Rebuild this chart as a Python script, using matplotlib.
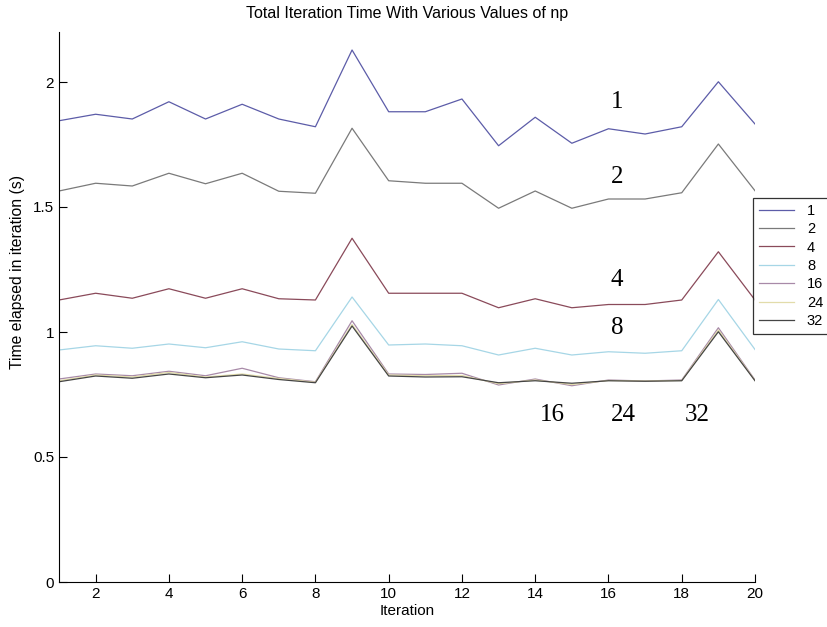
import numpy as np
import matplotlib
matplotlib.use("Agg")
import matplotlib.pyplot as plt

plt.rcParams["font.family"] = ["Liberation Sans", "DejaVu Sans"]

iterations = list(range(1, 21))

np_labels = ["1", "2", "4", "8", "16", "24", "32"]

t_np1 = [1.845, 1.871, 1.852, 1.921, 1.852, 1.911, 1.852, 1.821, 2.128, 1.881,
         1.881, 1.932, 1.745, 1.859, 1.755, 1.813, 1.792, 1.821, 2.001, 1.832]
t_np2 = [1.564, 1.595, 1.584, 1.635, 1.593, 1.635, 1.563, 1.555, 1.815, 1.605,
         1.595, 1.595, 1.495, 1.564, 1.495, 1.532, 1.532, 1.557, 1.752, 1.565]
t_np4 = [1.128, 1.155, 1.135, 1.173, 1.135, 1.173, 1.133, 1.128, 1.375, 1.155,
         1.155, 1.155, 1.097, 1.133, 1.097, 1.110, 1.110, 1.128, 1.321, 1.128]
t_np8 = [0.928, 0.945, 0.935, 0.952, 0.937, 0.961, 0.932, 0.925, 1.140, 0.948,
         0.952, 0.945, 0.908, 0.935, 0.908, 0.921, 0.915, 0.925, 1.130, 0.930]
t_np16 = [0.812, 0.832, 0.825, 0.843, 0.825, 0.855, 0.817, 0.801, 1.045, 0.832,
          0.830, 0.835, 0.788, 0.812, 0.785, 0.808, 0.804, 0.808, 1.017, 0.808]
t_np24 = [0.805, 0.828, 0.820, 0.838, 0.820, 0.832, 0.814, 0.799, 1.030, 0.828,
          0.825, 0.826, 0.793, 0.808, 0.790, 0.806, 0.804, 0.806, 1.008, 0.806]
t_np32 = [0.801, 0.824, 0.815, 0.832, 0.817, 0.828, 0.810, 0.797, 1.024, 0.824,
          0.820, 0.821, 0.797, 0.805, 0.795, 0.805, 0.803, 0.805, 1.001, 0.805]

series = [t_np1, t_np2, t_np4, t_np8, t_np16, t_np24, t_np32]
colors = ["#5c5ca8", "#7a7a7a", "#8a4a5a", "#a6d6e6", "#a88aa8", "#e2dcaa", "#454545"]

fig = plt.figure(figsize=(8.27, 6.27), dpi=100)
ax = fig.add_axes([59 / 827, 45 / 627, 696 / 827, 550 / 627])

for vals, c, lab in zip(series, colors, np_labels):
    ax.plot(iterations, vals, color=c, linewidth=0.9, label=lab)

ax.set_xlim(1, 20)
ax.set_ylim(0, 2.2)
ax.set_xticks(range(2, 21, 2))
ax.set_yticks([0, 0.5, 1, 1.5, 2])
ax.set_yticklabels(["0", "0.5", "1", "1.5", "2"])
ax.tick_params(direction="in", length=6, labelsize=11, width=0.8)
for s in ["top", "right"]:
    ax.spines[s].set_visible(False)

ax.set_title("Total Iteration Time With Various Values of np", fontsize=11.5, pad=10)
ax.set_xlabel("Iteration", fontsize=11, labelpad=2)
ax.set_ylabel("Time elapsed in iteration (s)", fontsize=11.3)
ax.yaxis.set_label_coords(-0.049, 0.564)

# hand-written style labels next to the curves
serif = ["Liberation Serif", "DejaVu Serif"]
ax.text(16.23, 1.92, "1", family=serif, fontsize=18, ha="center", va="center")
ax.text(16.23, 1.62, "2", family=serif, fontsize=18, ha="center", va="center")
ax.text(16.23, 1.21, "4", family=serif, fontsize=18, ha="center", va="center",
        bbox=dict(facecolor="white", edgecolor="none", pad=6))
ax.text(16.23, 1.015, "8", family=serif, fontsize=18, ha="center", va="center")
ax.text(14.46, 0.668, "16", family=serif, fontsize=18, ha="center", va="center")
ax.text(16.42, 0.668, "24", family=serif, fontsize=18, ha="center", va="center")
ax.text(18.42, 0.668, "32", family=serif, fontsize=18, ha="center", va="center")

leg = ax.legend(loc="upper left", bbox_to_anchor=(753 / 827, 1 - 198 / 627),
                bbox_transform=fig.transFigure, fontsize=10.5, frameon=True,
                fancybox=False, edgecolor="black", handlelength=2.4,
                handletextpad=0.9, labelspacing=0.3, borderpad=0.4,
                borderaxespad=0)
leg.get_frame().set_linewidth(0.9)

fig.savefig("out.png", dpi=100)
